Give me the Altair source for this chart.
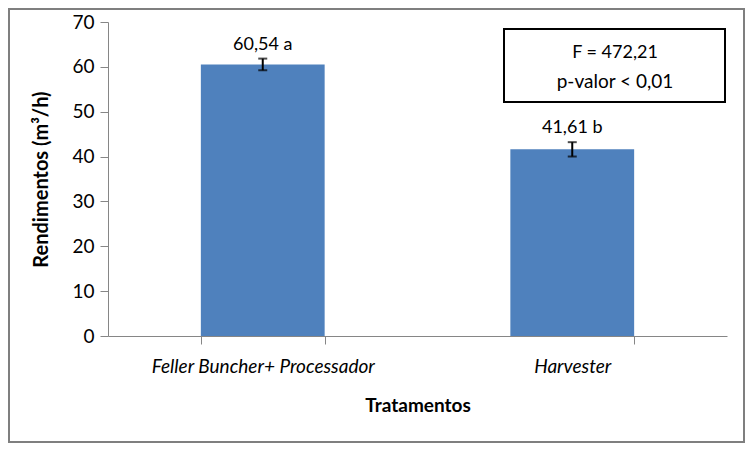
import altair as alt
import pandas as pd

categories = ["Feller Buncher+ Processador", "Harvester"]
means = [60.54, 41.61]
errors = [1.3, 1.6]
labels = ["60,54 a", "41,61 b"]
stats_lines = ["F = 472,21", "p-valor < 0,01"]

df = pd.DataFrame({"trat": categories, "mean": means, "err": errors, "label": labels})
df["lo"] = df["mean"] - df["err"]
df["hi"] = df["mean"] + df["err"]

FONT = "Lato"
AX = "#868686"

x = alt.X(
    "trat:N", sort=categories, title="Tratamentos",
    scale=alt.Scale(paddingInner=0.6, paddingOuter=0.3),
    axis=alt.Axis(labelAngle=0, labelFontStyle="italic", tickBand="extent", labelLimit=0,
                  labelFont=FONT, labelFontSize=19, labelColor="black", labelPadding=13,
                  titleFont=FONT, titleFontSize=19, titleFontWeight="bold", titleColor="black",
                  titlePadding=20, domainColor=AX, tickColor=AX, tickSize=8),
)
y = alt.Y(
    "mean:Q", title="Rendimentos (m³/h)",
    scale=alt.Scale(domain=[0, 70], nice=False),
    axis=alt.Axis(values=list(range(0, 71, 10)), grid=False,
                  labelFont=FONT, labelFontSize=19, labelColor="black", labelPadding=6,
                  titleFont=FONT, titleFontSize=20, titleFontWeight="bold",
                  titleColor="black", titlePadding=20,
                  domainColor=AX, tickColor=AX, tickSize=8),
)

base = alt.Chart(df)
xc = alt.X("trat:N", sort=categories)
bars = base.mark_bar(color="#4F81BD").encode(x=x, y=y)
stems = base.mark_rule(color="black", strokeWidth=2).encode(x=xc, y="lo:Q", y2="hi:Q")
caps_hi = base.mark_tick(color="black", thickness=2, size=9).encode(x=xc, y="hi:Q")
caps_lo = base.mark_tick(color="black", thickness=2, size=9).encode(x=xc, y="lo:Q")
text = base.mark_text(baseline="bottom", dy=-5, font=FONT, fontSize=18, color="black").encode(
    x=xc, y="hi:Q", text="label:N")

box = alt.Chart(pd.DataFrame({"k": [0]})).mark_rect(fill="white", stroke="black", strokeWidth=2).encode(
    x=alt.value(396), x2=alt.value(617), y=alt.value(7), y2=alt.value(80))
stats1 = alt.Chart(pd.DataFrame({"t": [stats_lines[0]]})).mark_text(
    font=FONT, fontSize=18, color="black", baseline="middle", align="center").encode(
    x=alt.value(507), y=alt.value(31), text="t:N")
stats2 = alt.Chart(pd.DataFrame({"t": [stats_lines[1]]})).mark_text(
    font=FONT, fontSize=19, color="black", baseline="middle", align="center").encode(
    x=alt.value(507), y=alt.value(60), text="t:N")

frame = alt.Chart(pd.DataFrame({"k": [0]})).mark_rect(fill=None, stroke="#7f7f7f", strokeWidth=2, clip=False).encode(
    x=alt.value(-99), x2=alt.value(636), y=alt.value(-13), y2=alt.value(420))

chart = alt.layer(bars, stems, caps_hi, caps_lo, text, box, stats1, stats2, frame).properties(
    width=619, height=314,
    autosize=alt.AutoSizeParams(type="none"),
    padding={"left": 100, "top": 14, "right": 18, "bottom": 107},
).configure_view(stroke=None)

chart.save("out.html", embed_options={"renderer": "svg", "actions": False})
